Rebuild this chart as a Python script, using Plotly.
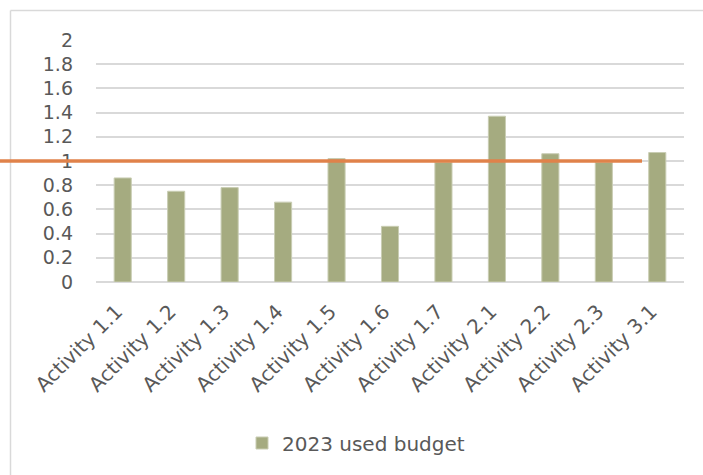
import plotly.graph_objects as go

categories = ["Activity 1.1", "Activity 1.2", "Activity 1.3", "Activity 1.4", "Activity 1.5",
              "Activity 1.6", "Activity 1.7", "Activity 2.1", "Activity 2.2", "Activity 2.3",
              "Activity 3.1"]
used_budget = [0.86, 0.75, 0.78, 0.66, 1.02, 0.46, 0.99, 1.37, 1.06, 0.99, 1.07]
series_name = "2023 used budget"
threshold = 1.0
y_ticks = [0, 0.2, 0.4, 0.6, 0.8, 1, 1.2, 1.4, 1.6, 1.8, 2]
y_tick_text = ["0", "0.2", "0.4", "0.6", "0.8", "1", "1.2", "1.4", "1.6", "1.8", "2"]

W, H = 703, 475
ML, MR, MT, MB = 96, 19, 40, 193
PW = W - ML - MR
PH = H - MT - MB

font_family = "DejaVu Sans"
text_color = "#595959"
grid_color = "#D9D9D9"

fig = go.Figure()
fig.add_trace(go.Bar(
    x=categories, y=used_budget, name=series_name,
    marker=dict(color="#A5AB80", line=dict(color="#C9CDB3", width=1)),
    width=0.32, showlegend=True,
))

def px_x(p):
    return (p - ML) / PW

def px_y(p):
    return 1 - (p - MT) / PH

shapes = [
    # threshold line
    dict(type="line", xref="paper", yref="y", x0=px_x(-2), x1=px_x(642),
         y0=threshold, y1=threshold, line=dict(color="#E0824A", width=3.5), layer="above"),
    # chart border (left and top)
    dict(type="line", xref="paper", yref="paper", x0=px_x(10.5), x1=px_x(10.5),
         y0=px_y(10.5), y1=px_y(480), line=dict(color=grid_color, width=1.5), layer="below"),
    dict(type="line", xref="paper", yref="paper", x0=px_x(10.5), x1=px_x(710),
         y0=px_y(10.5), y1=px_y(10.5), line=dict(color=grid_color, width=1.5), layer="below"),
]

fig.update_layout(
    width=W, height=H,
    margin=dict(l=ML, r=MR, t=MT, b=MB, pad=0, autoexpand=False),
    paper_bgcolor="white", plot_bgcolor="white",
    font=dict(family=font_family, color=text_color, size=19),
    shapes=shapes,
    bargap=0.68,
    showlegend=True,
    legend=dict(orientation="h", x=px_x(356), xanchor="center", y=px_y(443), yanchor="middle",
                font=dict(size=20, color=text_color), bgcolor="rgba(0,0,0,0)"),
    xaxis=dict(range=[-0.5, len(categories) - 0.5], tickangle=-45, showgrid=False,
               showline=False, ticks="", ticklabelstandoff=13, ticklabelshift=-6,
               tickfont=dict(size=20, color=text_color)),
    yaxis=dict(range=[0, 2], tickvals=y_ticks, ticktext=y_tick_text, showgrid=True,
               gridcolor=grid_color, gridwidth=1.5, zeroline=True, zerolinecolor=grid_color,
               zerolinewidth=1.5, showline=False, ticks="", ticklabelstandoff=22,
               tickfont=dict(size=19, color=text_color)),
)

fig.write_html("out.html", config={"displayModeBar": False},
               post_script="document.body.style.margin='0';document.body.style.overflow='hidden';")
